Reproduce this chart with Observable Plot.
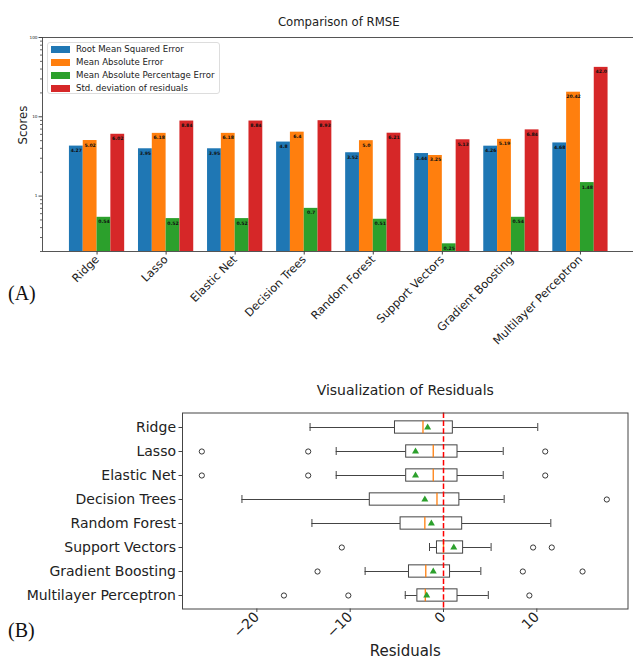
<!DOCTYPE html>
<html><head><meta charset="utf-8">
<script src="https://cdn.jsdelivr.net/npm/d3@7"></script>
<script src="https://cdn.jsdelivr.net/npm/@observablehq/plot@0.6"></script>
<style>
html,body{margin:0;padding:0;background:#fff;overflow:hidden;}
#wrap{position:relative;width:633px;height:662px;overflow:hidden;background:#fff;font-family:"DejaVu Sans",sans-serif;}
.panel{position:absolute;left:0;max-width:none !important;}
.plabel{position:absolute;left:8px;font-family:"Liberation Serif","Times New Roman",serif;font-size:20px;line-height:20px;color:#111;}
#legend{position:absolute;left:47px;top:42px;width:173px;height:52px;border:1px solid #ddd;border-radius:3px;background:rgba(255,255,255,0.85);box-sizing:border-box;}
.lrow{position:absolute;left:0;height:13px;width:100%;}
.lpatch{position:absolute;left:3px;top:3px;width:19px;height:7px;}
.ltext{position:absolute;left:28px;top:0;font-size:8.6px;line-height:13px;color:#222;white-space:nowrap;}
</style></head><body><div id="wrap"></div>
<script>
// ---------- Panel A data ----------
const models = ["Ridge","Lasso","Elastic Net","Decision Trees","Random Forest","Support Vectors","Gradient Boosting","Multilayer Perceptron"];
const metrics = ["Root Mean Squared Error","Mean Absolute Error","Mean Absolute Percentage Error","Std. deviation of residuals"];
const metricColors = ["#1f77b4","#ff7f0e","#2ca02c","#d62728"];
const rmse   = [4.27, 3.95, 3.95, 4.8, 3.52, 3.44, 4.26, 4.68];
const mae    = [5.02, 6.18, 6.18, 6.4, 5.0, 3.25, 5.19, 20.42];
const mape   = [0.54, 0.52, 0.52, 0.7, 0.51, 0.25, 0.54, 1.48];
const stdRes = [6.02, 8.84, 8.84, 8.93, 6.21, 5.13, 6.84, 42.0];
const scoreTicks = [1, 10, 100];
const minorScoreTicks = [0.2,0.3,0.4,0.5,0.6,0.7,0.8,0.9,2,3,4,5,6,7,8,9,20,30,40,50,60,70,80,90];
const scoreDomain = [0.2, 100];

// ---------- Panel B data (box statistics) ----------
const whiskerLow  = [-14.3, -11.5, -11.5, -21.6, -14.1, -1.5, -8.4, -4.1];
const quartile1   = [-5.2, -4.0, -4.0, -7.9, -4.6, -0.7, -3.7, -2.8];
const medianRes   = [-2.2, -1.1, -1.1, -0.7, -2.0, 0.0, -1.9, -1.95];
const quartile3   = [1.0, 1.5, 1.5, 1.7, 2.0, 2.1, 0.7, 1.5];
const whiskerHigh = [10.1, 6.4, 6.4, 6.5, 11.5, 5.1, 4.0, 4.8];
const meanRes     = [-1.7, -3.0, -3.0, -2.0, -1.3, 1.1, -1.1, -1.8];
const outlierModel = ["Lasso","Lasso","Lasso","Elastic Net","Elastic Net","Elastic Net","Decision Trees","Support Vectors","Support Vectors","Support Vectors","Gradient Boosting","Gradient Boosting","Gradient Boosting","Multilayer Perceptron","Multilayer Perceptron","Multilayer Perceptron"];
const outlierValue = [-25.9, -14.5, 10.9, -25.9, -14.5, 10.9, 17.5, -10.9, 9.6, 11.6, -13.5, 8.5, 14.9, -17.1, -10.2, 9.2];
const residualTicks = [-20, -10, 0, 10];
const referenceLine = [0];
const residualDomain = [-27.97, 19.77];

// ---------- build tables ----------
const series = [rmse, mae, mape, stdRes];
const barWidth = 0.2;
const bars = [];
models.forEach((m, i) => series.forEach((s, j) => bars.push({
  model: m, metric: metrics[j], value: s[i], center: i + (j - 1.5) * barWidth
})));
const groupIndex = models.map((m, i) => i);
const fmt = v => (Math.round(v * 10) === v * 10) ? v.toFixed(1) : String(v);
const minus = d => d < 0 ? "\u2212" + Math.abs(d) : String(d);

const boxRows = models.map((m, i) => ({
  model: m, wlo: whiskerLow[i], q1: quartile1[i], med: medianRes[i], q3: quartile3[i], whi: whiskerHigh[i], mean: meanRes[i]
}));
const outlierRows = outlierModel.map((m, i) => ({model: m, value: outlierValue[i]}));

const wrap = document.getElementById("wrap");

// ---------- Panel A ----------
const plotA = Plot.plot({
  width: 637, height: 340,
  marginLeft: 42, marginRight: 2.5, marginTop: 37, marginBottom: 89,
  style: {fontFamily: "DejaVu Sans", background: "transparent", color: "#222", overflow: "visible", maxWidth: "none"},
  x: {domain: [-0.79, 7.79]},
  y: {type: "log", domain: scoreDomain},
  color: {domain: metrics, range: metricColors},
  marks: [
    Plot.rectY(bars, {x1: d => d.center - barWidth / 2, x2: d => d.center + barWidth / 2, y1: scoreDomain[0], y2: "value", fill: "metric"}),
    Plot.text(bars, {x: "center", y: "value", text: d => fmt(d.value), dy: 4.5, fontSize: 4.6, fontWeight: "bold", fill: "#111"}),
    Plot.frame({stroke: "#444", strokeWidth: 0.9}),
    Plot.axisX(groupIndex, {tickFormat: i => models[i], tickRotate: -45, fontSize: 11.3, tickSize: 3.5, tickPadding: 2.5, label: null, stroke: "#444"}),
    Plot.axisY(scoreTicks, {tickFormat: d => String(d), fontSize: 4.2, tickSize: 3.5, tickPadding: 1.5, label: null, stroke: "#444"}),
    Plot.axisY(minorScoreTicks, {tickFormat: () => "", tickSize: 2, label: null, stroke: "#666"}),
    Plot.text(["Comparison of RMSE"], {text: d => d, frameAnchor: "top", dy: -20, fontSize: 11.7, fill: "#222"}),
    Plot.text(["Scores"], {text: d => d, frameAnchor: "left", dx: -19.5, rotate: -90, fontSize: 11.7, fill: "#222"})
  ]
});
plotA.classList.add("panel");
plotA.style.top = "0px";
plotA.style.maxWidth = "none";
plotA.setAttribute("width", 637);
plotA.style.width = "637px";
wrap.appendChild(plotA);

// legend overlay
const legend = document.createElement("div");
legend.id = "legend";
metrics.forEach((m, j) => {
  const row = document.createElement("div");
  row.className = "lrow";
  row.style.top = (-0.5 + j * 13) + "px";
  const p = document.createElement("div");
  p.className = "lpatch";
  p.style.background = metricColors[j];
  const t = document.createElement("div");
  t.className = "ltext";
  t.textContent = m;
  row.appendChild(p); row.appendChild(t);
  legend.appendChild(row);
});
wrap.appendChild(legend);

// ---------- Panel B ----------
const step = (608.5 - 412.5) / models.length;
const boxInset = (step - 12.8) / 2;
const capInset = (step - 8.5) / 2;
const plotB = Plot.plot({
  width: 633, height: 322,
  marginLeft: 182, marginRight: 5.5, marginTop: 72.5, marginBottom: 53.5,
  style: {fontFamily: "DejaVu Sans", background: "transparent", color: "#222", overflow: "visible"},
  x: {domain: residualDomain},
  y: {type: "band", domain: models, padding: 0},
  marks: [
    Plot.ruleY(boxRows, {y: "model", x1: "wlo", x2: "q1", stroke: "#444", strokeWidth: 1}),
    Plot.ruleY(boxRows, {y: "model", x1: "q3", x2: "whi", stroke: "#444", strokeWidth: 1}),
    Plot.tickX(boxRows, {y: "model", x: "wlo", insetTop: capInset, insetBottom: capInset, stroke: "#444", strokeWidth: 1}),
    Plot.tickX(boxRows, {y: "model", x: "whi", insetTop: capInset, insetBottom: capInset, stroke: "#444", strokeWidth: 1}),
    Plot.barX(boxRows, {y: "model", x1: "q1", x2: "q3", fill: "white", stroke: "#444", strokeWidth: 1, insetTop: boxInset, insetBottom: boxInset}),
    Plot.tickX(boxRows, {y: "model", x: "med", insetTop: boxInset, insetBottom: boxInset, stroke: "#ff7f0e", strokeWidth: 1.3}),
    Plot.dot(boxRows, {y: "model", x: "mean", symbol: "triangle", r: 2.6, fill: "#2ca02c", stroke: null}),
    Plot.dot(outlierRows, {y: "model", x: "value", r: 2.6, fill: "none", stroke: "#222", strokeWidth: 0.9}),
    Plot.ruleX(referenceLine, {stroke: "#ff0000", strokeWidth: 1.5, strokeDasharray: "5.5,2.4"}),
    Plot.frame({stroke: "#444", strokeWidth: 1}),
    Plot.axisY({fontSize: 14, tickSize: 3.5, tickPadding: 3, label: null, stroke: "#444"}),
    Plot.axisX(residualTicks, {tickFormat: minus, tickRotate: -45, fontSize: 14, tickSize: 3.5, tickPadding: 2, label: null, stroke: "#444"}),
    Plot.text(["Visualization of Residuals"], {text: d => d, frameAnchor: "top", dy: -27.5, fontSize: 14, fill: "#222"}),
    Plot.text(["Residuals"], {text: d => d, frameAnchor: "bottom", dy: 46.5, fontSize: 15, fill: "#222"})
  ]
});
plotB.classList.add("panel");
plotB.style.top = "340px";
wrap.appendChild(plotB);

// panel letters
const la = document.createElement("div");
la.className = "plabel"; la.style.top = "283px"; la.textContent = "(A)";
const lb = document.createElement("div");
lb.className = "plabel"; lb.style.top = "620px"; lb.textContent = "(B)";
wrap.appendChild(la); wrap.appendChild(lb);
</script></body></html>
